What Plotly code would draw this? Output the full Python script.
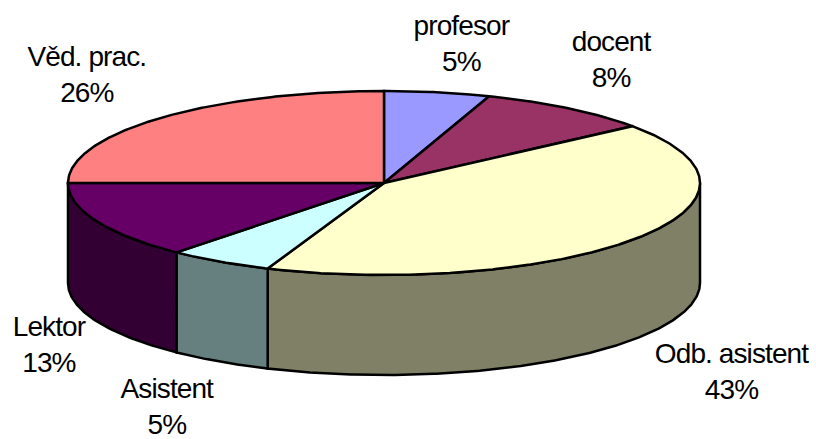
import numpy as np
import plotly.graph_objects as go

# Data
categories = ["profesor", "docent", "Odb. asistent", "Asistent", "Lektor", "Věd. prac."]
percent_labels = [5, 8, 43, 5, 13, 26]
slice_shares = [5.4, 9.0, 41.6, 5.4, 13.6, 25.0]
top_colors = ["#9999FF", "#993366", "#FFFFCC", "#CCFFFF", "#660066", "#FF8080"]
side_colors = ["#666680", "#4D1A33", "#808066", "#668080", "#330033", "#804040"]
label_x = [461, 611, 731, 167, 49, 87]
label_y = [43.5, 59, 371, 406, 344, 74]

CX, CY, RX, RY, DEPTH = 384, 183, 316, 92, 100


def arc(t0, t1):
    t = np.radians(np.linspace(t0, t1, max(int(abs(t1 - t0) * 2), 2)))
    return CX + RX * np.sin(t), CY - RY * np.cos(t)


edges = np.cumsum([0] + slice_shares) / sum(slice_shares) * 360
fig = go.Figure()
line = dict(color="black", width=2.5)

for i in range(len(categories)):
    a, b = max(edges[i], 90), min(edges[i + 1], 270)
    if a < b:
        x, y = arc(a, b)
        fig.add_trace(go.Scatter(
            x=np.r_[x, x[::-1], x[0]], y=np.r_[y, y[::-1] + DEPTH, y[0]],
            mode="lines", fill="toself", fillcolor=side_colors[i], line=line,
            hoverinfo="skip", showlegend=False))

for i, name in enumerate(categories):
    x, y = arc(edges[i], edges[i + 1])
    fig.add_trace(go.Scatter(
        x=np.r_[CX, x, CX], y=np.r_[CY, y, CY],
        mode="lines", fill="toself", fillcolor=top_colors[i], line=line,
        name=name, showlegend=False))
    fig.add_annotation(
        x=label_x[i], y=label_y[i], text=f"{name}<br>{percent_labels[i]}%",
        showarrow=False, align="center",
        font=dict(family="Liberation Sans", size=28, color="black"))

fig.update_xaxes(range=[0, 816], visible=False, fixedrange=True)
fig.update_yaxes(range=[439, 0], visible=False, fixedrange=True)
fig.update_layout(width=816, height=439, margin=dict(l=0, r=0, t=0, b=0),
                  paper_bgcolor="white", plot_bgcolor="white")
post = """
document.body.style.margin = '0';
document.documentElement.style.overflow = 'hidden';
document.querySelectorAll('.annotation-text, .annotation text').forEach(function (t) {
  t.style.letterSpacing = '-0.9px';
});
"""
fig.write_html("out.html", config={"displayModeBar": False}, post_script=post)
